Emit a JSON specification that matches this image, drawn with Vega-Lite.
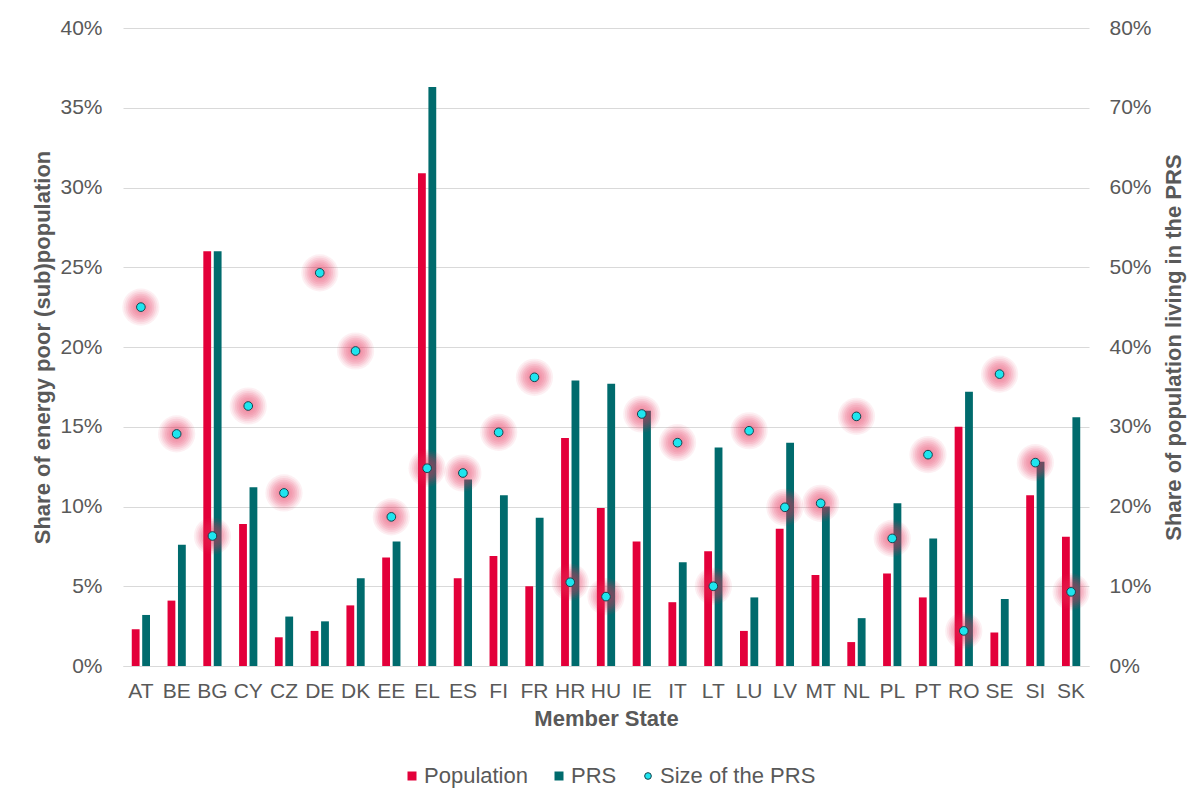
{
  "$schema": "https://vega.github.io/schema/vega-lite/v6.json",
  "width": 966,
  "height": 638,
  "autosize": {"type": "none"},
  "padding": {"left": 123, "top": 28, "right": 114, "bottom": 135},
  "background": "white",
  "config": {
    "font": "Liberation Sans",
    "view": {"stroke": null},
    "axis": {
      "labelFont": "Liberation Sans",
      "labelFontSize": 21,
      "labelColor": "#595959",
      "titleFont": "Liberation Sans",
      "titleFontSize": 22,
      "titleFontWeight": "bold",
      "titleColor": "#595959",
      "ticks": false,
      "domain": false,
      "gridColor": "#d9d9d9",
      "gridWidth": 1
    },
    "legend": {
      "labelFont": "Liberation Sans",
      "labelFontSize": 22,
      "labelColor": "#595959",
      "labelLimit": 400
    }
  },
  "datasets": {
    "bars": [
      {"state": "AT", "series": "Population", "value": 0.023}, {"state": "AT", "series": "PRS", "value": 0.032},
      {"state": "BE", "series": "Population", "value": 0.041}, {"state": "BE", "series": "PRS", "value": 0.076},
      {"state": "BG", "series": "Population", "value": 0.260}, {"state": "BG", "series": "PRS", "value": 0.260},
      {"state": "CY", "series": "Population", "value": 0.089}, {"state": "CY", "series": "PRS", "value": 0.112},
      {"state": "CZ", "series": "Population", "value": 0.018}, {"state": "CZ", "series": "PRS", "value": 0.031},
      {"state": "DE", "series": "Population", "value": 0.022}, {"state": "DE", "series": "PRS", "value": 0.028},
      {"state": "DK", "series": "Population", "value": 0.038}, {"state": "DK", "series": "PRS", "value": 0.055},
      {"state": "EE", "series": "Population", "value": 0.068}, {"state": "EE", "series": "PRS", "value": 0.078},
      {"state": "EL", "series": "Population", "value": 0.309}, {"state": "EL", "series": "PRS", "value": 0.363},
      {"state": "ES", "series": "Population", "value": 0.055}, {"state": "ES", "series": "PRS", "value": 0.117},
      {"state": "FI", "series": "Population", "value": 0.069}, {"state": "FI", "series": "PRS", "value": 0.107},
      {"state": "FR", "series": "Population", "value": 0.050}, {"state": "FR", "series": "PRS", "value": 0.093},
      {"state": "HR", "series": "Population", "value": 0.143}, {"state": "HR", "series": "PRS", "value": 0.179},
      {"state": "HU", "series": "Population", "value": 0.099}, {"state": "HU", "series": "PRS", "value": 0.177},
      {"state": "IE", "series": "Population", "value": 0.078}, {"state": "IE", "series": "PRS", "value": 0.160},
      {"state": "IT", "series": "Population", "value": 0.040}, {"state": "IT", "series": "PRS", "value": 0.065},
      {"state": "LT", "series": "Population", "value": 0.072}, {"state": "LT", "series": "PRS", "value": 0.137},
      {"state": "LU", "series": "Population", "value": 0.022}, {"state": "LU", "series": "PRS", "value": 0.043},
      {"state": "LV", "series": "Population", "value": 0.086}, {"state": "LV", "series": "PRS", "value": 0.140},
      {"state": "MT", "series": "Population", "value": 0.057}, {"state": "MT", "series": "PRS", "value": 0.100},
      {"state": "NL", "series": "Population", "value": 0.015}, {"state": "NL", "series": "PRS", "value": 0.030},
      {"state": "PL", "series": "Population", "value": 0.058}, {"state": "PL", "series": "PRS", "value": 0.102},
      {"state": "PT", "series": "Population", "value": 0.043}, {"state": "PT", "series": "PRS", "value": 0.080},
      {"state": "RO", "series": "Population", "value": 0.150}, {"state": "RO", "series": "PRS", "value": 0.172},
      {"state": "SE", "series": "Population", "value": 0.021}, {"state": "SE", "series": "PRS", "value": 0.042},
      {"state": "SI", "series": "Population", "value": 0.107}, {"state": "SI", "series": "PRS", "value": 0.128},
      {"state": "SK", "series": "Population", "value": 0.081}, {"state": "SK", "series": "PRS", "value": 0.156}
    ],
    "sizes": [
      {"state": "AT", "series": "Size of the PRS", "size": 0.450},
      {"state": "BE", "series": "Size of the PRS", "size": 0.291},
      {"state": "BG", "series": "Size of the PRS", "size": 0.163},
      {"state": "CY", "series": "Size of the PRS", "size": 0.326},
      {"state": "CZ", "series": "Size of the PRS", "size": 0.217},
      {"state": "DE", "series": "Size of the PRS", "size": 0.493},
      {"state": "DK", "series": "Size of the PRS", "size": 0.395},
      {"state": "EE", "series": "Size of the PRS", "size": 0.187},
      {"state": "EL", "series": "Size of the PRS", "size": 0.248},
      {"state": "ES", "series": "Size of the PRS", "size": 0.242},
      {"state": "FI", "series": "Size of the PRS", "size": 0.293},
      {"state": "FR", "series": "Size of the PRS", "size": 0.362},
      {"state": "HR", "series": "Size of the PRS", "size": 0.105},
      {"state": "HU", "series": "Size of the PRS", "size": 0.087},
      {"state": "IE", "series": "Size of the PRS", "size": 0.316},
      {"state": "IT", "series": "Size of the PRS", "size": 0.280},
      {"state": "LT", "series": "Size of the PRS", "size": 0.100},
      {"state": "LU", "series": "Size of the PRS", "size": 0.295},
      {"state": "LV", "series": "Size of the PRS", "size": 0.199},
      {"state": "MT", "series": "Size of the PRS", "size": 0.204},
      {"state": "NL", "series": "Size of the PRS", "size": 0.313},
      {"state": "PL", "series": "Size of the PRS", "size": 0.160},
      {"state": "PT", "series": "Size of the PRS", "size": 0.265},
      {"state": "RO", "series": "Size of the PRS", "size": 0.044},
      {"state": "SE", "series": "Size of the PRS", "size": 0.366},
      {"state": "SI", "series": "Size of the PRS", "size": 0.255},
      {"state": "SK", "series": "Size of the PRS", "size": 0.093}
    ]
  },
  "encoding": {
    "x": {
      "field": "state",
      "type": "nominal",
      "sort": ["AT","BE","BG","CY","CZ","DE","DK","EE","EL","ES","FI","FR","HR","HU","IE","IT","LT","LU","LV","MT","NL","PL","PT","RO","SE","SI","SK"],
      "scale": {"paddingInner": 0.49, "paddingOuter": 0.245},
      "axis": {
        "title": "Member State",
        "labelAngle": 0,
        "labelPadding": 14,
        "labelOverlap": false,
        "labelBound": false,
        "titlePadding": 7,
        "domain": true,
        "domainColor": "#d9d9d9",
        "grid": false
      }
    }
  },
  "layer": [
    {
      "data": {"name": "bars"},
      "mark": {"type": "bar"},
      "encoding": {
        "xOffset": {"field": "series", "type": "nominal", "sort": ["Population", "PRS"], "scale": {"paddingInner": 0.25, "paddingOuter": 0}},
        "y": {
          "field": "value",
          "type": "quantitative",
          "scale": {"domain": [0, 0.4], "nice": false},
          "axis": {
            "orient": "left",
            "values": [0, 0.05, 0.1, 0.15, 0.2, 0.25, 0.3, 0.35, 0.4],
            "format": ".0%",
            "grid": true,
            "labelPadding": 21,
            "title": "Share of energy poor (sub)population",
            "titleAngle": 270,
            "titleAlign": "center",
            "titleBaseline": "middle",
            "titleX": -81,
            "titleY": 319
          }
        },
        "color": {
          "field": "series",
          "type": "nominal",
          "scale": {"domain": ["Population", "PRS", "Size of the PRS"], "range": ["#e3003a", "#006b6d", "#1ee5ef"]},
          "legend": {
            "title": null,
            "orient": "none",
            "direction": "horizontal",
            "legendX": 278,
            "legendY": 737,
            "padding": 0,
            "gridAlign": "none",
            "columnPadding": 20,
            "labelOffset": 1,
            "symbolSize": 81,
            "symbolType": "square",
            "encode": {
              "symbols": {
                "update": {
                  "shape": {"signal": "datum.value === 'Size of the PRS' ? 'circle' : 'square'"},
                  "size": {"signal": "datum.value === 'Size of the PRS' ? 45 : 81"},
                  "stroke": {"signal": "datum.value === 'Size of the PRS' ? '#16434d' : null"},
                  "strokeWidth": {"value": 1}
                }
              }
            }
          }
        }
      }
    },
    {
      "data": {"name": "sizes"},
      "encoding": {
        "y": {
          "field": "size",
          "type": "quantitative",
          "scale": {"domain": [0, 0.8], "nice": false},
          "axis": {
            "orient": "right",
            "values": [0, 0.1, 0.2, 0.3, 0.4, 0.5, 0.6, 0.7, 0.8],
            "format": ".0%",
            "grid": false,
            "labelPadding": 20,
            "title": "Share of population  living in the PRS",
            "titleAngle": 270,
            "titleAlign": "center",
            "titleBaseline": "middle",
            "titleX": 84,
            "titleY": 319
          }
        }
      },
      "layer": [
        {"mark": {"type": "point", "filled": true, "size": 1385, "color": "#e8305a", "opacity": 0.07}},
        {"mark": {"type": "point", "filled": true, "size": 1134, "color": "#e8305a", "opacity": 0.08}},
        {"mark": {"type": "point", "filled": true, "size": 908, "color": "#e8305a", "opacity": 0.09}},
        {"mark": {"type": "point", "filled": true, "size": 707, "color": "#e8305a", "opacity": 0.1}},
        {"mark": {"type": "point", "filled": true, "size": 531, "color": "#e8305a", "opacity": 0.1}},
        {"mark": {"type": "point", "filled": true, "size": 380, "color": "#e8305a", "opacity": 0.09}},
        {"mark": {"type": "point", "filled": true, "size": 254, "color": "#e8305a", "opacity": 0.08}},
        {"mark": {"type": "point", "filled": true, "size": 154, "color": "#e8305a", "opacity": 0.07}},
        {
          "mark": {"type": "point", "filled": true, "size": 75, "stroke": "#16434d", "strokeWidth": 1, "opacity": 1},
          "encoding": {"color": {"field": "series", "type": "nominal"}}
        }
      ]
    }
  ],
  "resolve": {"scale": {"y": "independent"}}
}
